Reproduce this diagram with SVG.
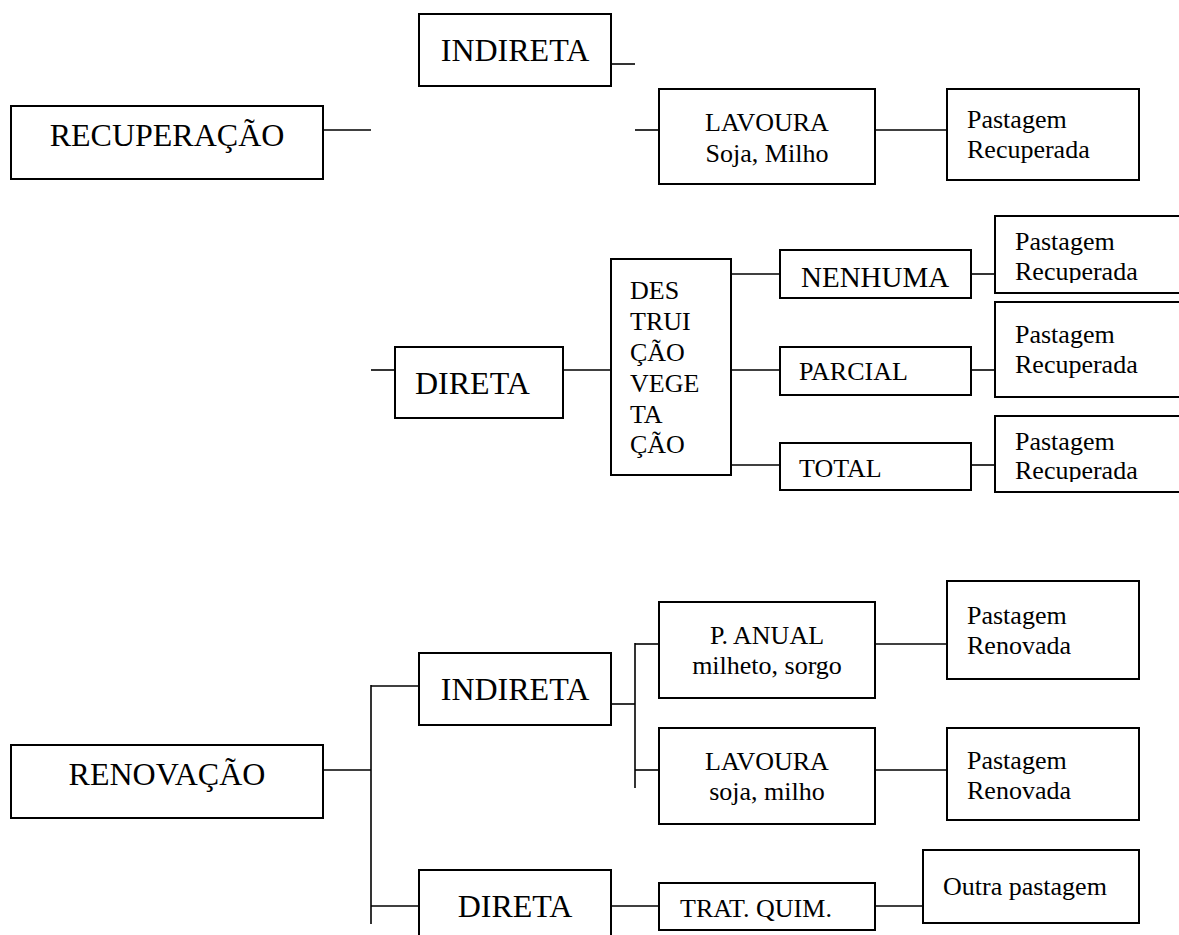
<svg xmlns="http://www.w3.org/2000/svg" width="1179" height="935" viewBox="0 0 1179 935">
<style>
  rect.box { fill: #ffffff; stroke: #000000; stroke-width: 2; }
  .conn line { stroke: #000000; stroke-width: 1.6; fill: none; }
  text { font-family: "Liberation Serif", "Times New Roman", serif; fill: #000000; }
  .big { font-size: 32px; }
  .mid { font-size: 26px; }
  .c { text-anchor: middle; }
</style>
<defs>
  <clipPath id="clipR1"><rect x="996" y="217" width="190" height="66"/></clipPath>
  <clipPath id="clipR2"><rect x="996" y="303" width="190" height="85"/></clipPath>
  <clipPath id="clipR3"><rect x="996" y="417" width="190" height="65"/></clipPath>
</defs>
<rect x="0" y="0" width="1179" height="935" fill="#ffffff"/>

<g id="connectors" class="conn">
  <!-- top section -->
  <line x1="611" y1="64" x2="635" y2="64"/>
  <line x1="323" y1="130" x2="371" y2="130"/>
  <line x1="635" y1="130" x2="659" y2="130"/>
  <line x1="875" y1="130" x2="947" y2="130"/>
  <!-- middle section -->
  <line x1="371" y1="370" x2="395" y2="370"/>
  <line x1="563" y1="370" x2="611" y2="370"/>
  <line x1="731" y1="274" x2="780" y2="274"/>
  <line x1="731" y1="370" x2="780" y2="370"/>
  <line x1="731" y1="465" x2="780" y2="465"/>
  <line x1="971" y1="274" x2="995" y2="274"/>
  <line x1="971" y1="370" x2="995" y2="370"/>
  <line x1="971" y1="465" x2="995" y2="465"/>
  <!-- bottom section -->
  <line x1="323" y1="770" x2="371" y2="770"/>
  <line x1="371" y1="685" x2="371" y2="924"/>
  <line x1="371" y1="686" x2="419" y2="686"/>
  <line x1="371" y1="906" x2="419" y2="906"/>
  <line x1="611" y1="704" x2="635" y2="704"/>
  <line x1="635" y1="643" x2="635" y2="788"/>
  <line x1="635" y1="644" x2="659" y2="644"/>
  <line x1="635" y1="770" x2="659" y2="770"/>
  <line x1="875" y1="644" x2="947" y2="644"/>
  <line x1="875" y1="770" x2="947" y2="770"/>
  <line x1="611" y1="906" x2="659" y2="906"/>
  <line x1="875" y1="906" x2="923" y2="906"/>
</g>

<!-- top section nodes -->
<g id="recuperacao">
  <rect class="box" x="11" y="106" width="312" height="73"/>
  <text class="big c" x="167" y="146">RECUPERAÇÃO</text>
</g>
<g id="indireta-rec">
  <rect class="box" x="419" y="14" width="192" height="72"/>
  <text class="big c" x="515" y="61">INDIRETA</text>
</g>
<g id="lavoura-rec">
  <rect class="box" x="659" y="89" width="216" height="95"/>
  <text class="mid c" x="767" y="131">LAVOURA</text>
  <text class="mid c" x="767" y="162">Soja, Milho</text>
</g>
<g id="pastagem-rec-1">
  <rect class="box" x="947" y="89" width="192" height="91"/>
  <text class="mid" x="967" y="128">Pastagem</text>
  <text class="mid" x="967" y="158">Recuperada</text>
</g>

<!-- middle section nodes -->
<g id="direta-rec">
  <rect class="box" x="395" y="347" width="168" height="71"/>
  <text class="big" x="415" y="394">DIRETA</text>
</g>
<g id="destruicao">
  <rect class="box" x="611" y="259" width="120" height="216"/>
  <text class="mid" x="630" y="299">DES</text>
  <text class="mid" x="630" y="330">TRUI</text>
  <text class="mid" x="630" y="361">ÇÃO</text>
  <text class="mid" x="630" y="392">VEGE</text>
  <text class="mid" x="630" y="423">TA</text>
  <text class="mid" x="630" y="453">ÇÃO</text>
</g>
<g id="nenhuma">
  <rect class="box" x="780" y="250" width="191" height="48"/>
  <text x="801" y="287" style="font-size:29px">NENHUMA</text>
</g>
<g id="parcial">
  <rect class="box" x="780" y="347" width="191" height="48"/>
  <text class="mid" x="799" y="380">PARCIAL</text>
</g>
<g id="total">
  <rect class="box" x="780" y="443" width="191" height="47"/>
  <text class="mid" x="799" y="477">TOTAL</text>
</g>
<g id="pastagem-rec-2">
  <rect class="box" x="995" y="216" width="200" height="77"/>
  <g clip-path="url(#clipR1)">
    <text class="mid" x="1015" y="250">Pastagem</text>
    <text class="mid" x="1015" y="280">Recuperada</text>
  </g>
</g>
<g id="pastagem-rec-3">
  <rect class="box" x="995" y="302" width="200" height="95"/>
  <g clip-path="url(#clipR2)">
    <text class="mid" x="1015" y="343">Pastagem</text>
    <text class="mid" x="1015" y="373">Recuperada</text>
  </g>
</g>
<g id="pastagem-rec-4">
  <rect class="box" x="995" y="416" width="200" height="76"/>
  <g clip-path="url(#clipR3)">
    <text class="mid" x="1015" y="450">Pastagem</text>
    <text class="mid" x="1015" y="479">Recuperada</text>
  </g>
</g>

<!-- bottom section nodes -->
<g id="renovacao">
  <rect class="box" x="11" y="745" width="312" height="73"/>
  <text class="big c" x="167" y="785">RENOVAÇÃO</text>
</g>
<g id="indireta-ren">
  <rect class="box" x="419" y="653" width="192" height="72"/>
  <text class="big c" x="515" y="700">INDIRETA</text>
</g>
<g id="p-anual">
  <rect class="box" x="659" y="602" width="216" height="96"/>
  <text class="mid c" x="767" y="644">P. ANUAL</text>
  <text class="mid c" x="767" y="674">milheto, sorgo</text>
</g>
<g id="lavoura-ren">
  <rect class="box" x="659" y="728" width="216" height="96"/>
  <text class="mid c" x="767" y="770">LAVOURA</text>
  <text class="mid c" x="767" y="800">soja, milho</text>
</g>
<g id="pastagem-ren-1">
  <rect class="box" x="947" y="581" width="192" height="98"/>
  <text class="mid" x="967" y="624">Pastagem</text>
  <text class="mid" x="967" y="654">Renovada</text>
</g>
<g id="pastagem-ren-2">
  <rect class="box" x="947" y="728" width="192" height="92"/>
  <text class="mid" x="967" y="769">Pastagem</text>
  <text class="mid" x="967" y="799">Renovada</text>
</g>
<g id="direta-ren">
  <rect class="box" x="419" y="870" width="192" height="80"/>
  <text class="big c" x="515" y="917">DIRETA</text>
</g>
<g id="trat-quim">
  <rect class="box" x="659" y="883" width="216" height="47"/>
  <text class="mid" x="680" y="917">TRAT. QUIM.</text>
</g>
<g id="outra-pastagem">
  <rect class="box" x="923" y="850" width="216" height="73"/>
  <text class="mid" x="943" y="895">Outra pastagem</text>
</g>
</svg>
